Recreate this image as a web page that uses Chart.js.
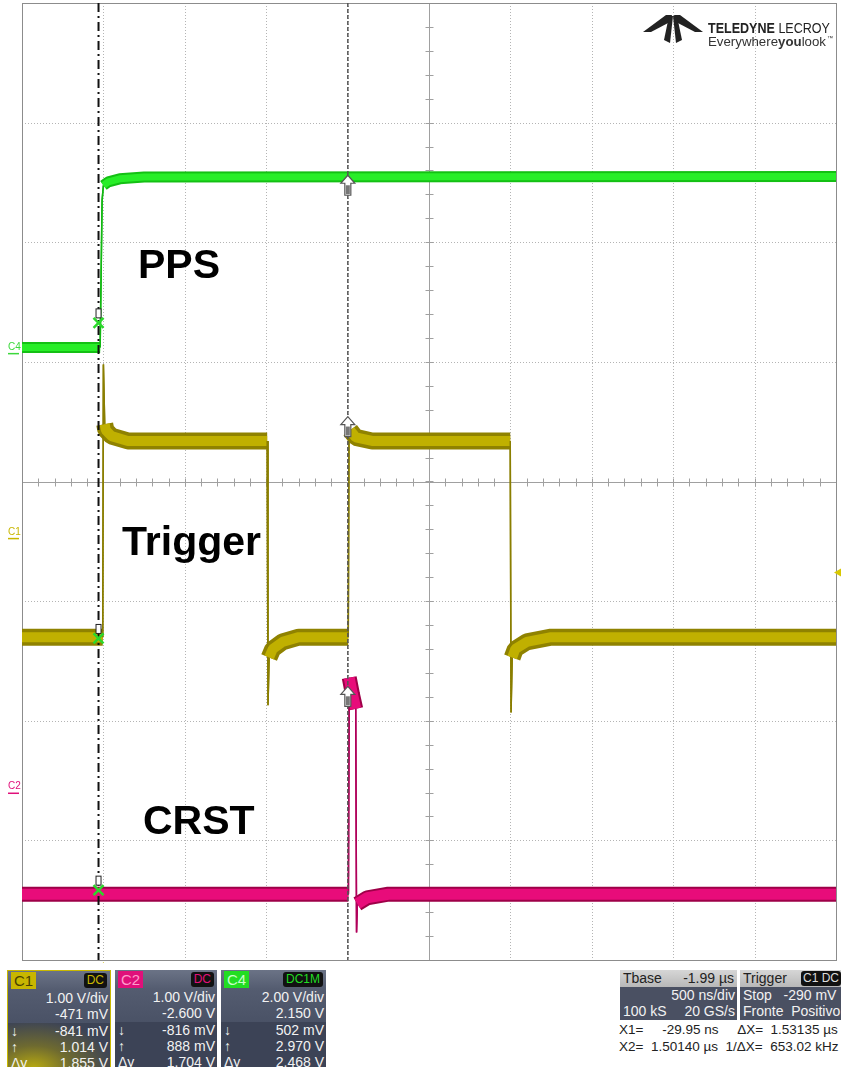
<!DOCTYPE html>
<html>
<head>
<meta charset="utf-8">
<script src="https://cdn.jsdelivr.net/npm/chart.js@4.4.1/dist/chart.umd.min.js"></script>
<style>
body { margin: 0; background: #fff; width: 841px; height: 1067px; overflow: hidden; position: relative; font-family: "Liberation Sans", Arial, sans-serif; }
#wrap { position: absolute; left: 0; top: 0; width: 841px; height: 963px; }
.sig { position: absolute; font-weight: bold; font-size: 41px; color: #000; line-height: 1; }
.box { position: absolute; top: 970px; height: 97px; color: #f2f2f2; font-size: 14px; overflow: hidden; }
.box .hd { height: 19px; background: linear-gradient(#6b7386, #545c70); position: relative; }
.box .tag { position: absolute; left: 3px; top: 1px; padding: 0 3px; height: 17px; line-height: 17px; font-size: 15px; }
.box .cpl { position: absolute; right: 3px; top: 2px; background: #111; border-radius: 3px; padding: 0 3px; height: 15px; line-height: 15px; font-size: 12px; }
.box .up { background: linear-gradient(#545c70, #4a5266); height: 33px; }
.box .lo { background: #3c4356; height: 45px; }
.row { height: 16px; line-height: 16px; text-align: right; padding-right: 2px; position: relative; }
.row b { position: absolute; left: 3px; font-weight: normal; }
.tb { position: absolute; top: 970px; height: 50px; font-size: 14px; color: #f2f2f2; background: #4a5062; }
.tb .hd { height: 17px; line-height: 17px; background: linear-gradient(#d6d6d6, #b8b8b8); color: #222; padding: 0 3px; position: relative; }
.tb .row { height: 16px; line-height: 16px; }
.cur { position: absolute; font-size: 13.5px; color: #222; white-space: pre; }
</style>
</head>
<body>
<div id="wrap"><canvas id="scope" width="841" height="963"></canvas></div>

<div class="sig" style="left:138px;top:244px">PPS</div>
<div class="sig" style="left:122px;top:521px">Trigger</div>
<div class="sig" style="left:143px;top:800px">CRST</div>

<!-- logo -->
<svg style="position:absolute;left:640px;top:12px" width="200" height="40">
  <polygon points="3,20 26,3 32,3 30,10 11,20" fill="#222"/>
  <polygon points="63,20 40,3 34,3 36,10 55,20" fill="#222"/>
  <polygon points="29,4 33,4 30,31 24,28" fill="#222"/>
  <polygon points="33,4 37,4 42,28 36,31" fill="#222"/>
  <text x="68" y="21" font-family="Liberation Sans, Arial" font-size="15" fill="#222" textLength="122" lengthAdjust="spacingAndGlyphs"><tspan font-weight="bold">TELEDYNE</tspan> LECROY</text>
  <text x="68" y="34" font-family="Liberation Sans, Arial" font-size="12.5" fill="#333" textLength="118" lengthAdjust="spacingAndGlyphs">Everywhere<tspan font-weight="bold">you</tspan>look</text>
  <text x="187" y="28" font-family="Liberation Sans, Arial" font-size="6" fill="#333">™</text>
</svg>

<!-- channel boxes -->
<div class="box" style="left:7px;width:104px;border:1px solid #c9b800;border-bottom:none;box-sizing:border-box;background:#3c4356">
  <div class="hd"><span class="tag" style="background:#c8b600;color:#4a4200">C1</span><span class="cpl" style="color:#c8b600">DC</span></div>
  <div class="up"><div class="row">1.00 V/div</div><div class="row">-471 mV</div></div>
  <div class="lo" style="background:radial-gradient(ellipse at 25% 100%, #b8aa10 0%, #6e6a30 35%, #3c4356 75%)">
    <div class="row"><b>↓</b>-841 mV</div><div class="row"><b>↑</b>1.014 V</div><div class="row"><b>Δy</b>1.855 V</div>
  </div>
</div>
<div class="box" style="left:115px;width:102px">
  <div class="hd"><span class="tag" style="background:#e0107a;color:#ff9ccc">C2</span><span class="cpl" style="color:#e0107a">DC</span></div>
  <div class="up"><div class="row">1.00 V/div</div><div class="row">-2.600 V</div></div>
  <div class="lo"><div class="row"><b>↓</b>-816 mV</div><div class="row"><b>↑</b>888 mV</div><div class="row"><b>Δy</b>1.704 V</div></div>
</div>
<div class="box" style="left:221px;width:105px">
  <div class="hd"><span class="tag" style="background:#22dd22;color:#c8ffc8">C4</span><span class="cpl" style="color:#22dd22">DC1M</span></div>
  <div class="up"><div class="row">2.00 V/div</div><div class="row">2.150 V</div></div>
  <div class="lo"><div class="row"><b>↓</b>502 mV</div><div class="row"><b>↑</b>2.970 V</div><div class="row"><b>Δy</b>2.468 V</div></div>
</div>

<!-- timebase / trigger -->
<div class="tb" style="left:620px;width:117px">
  <div class="hd">Tbase<span style="position:absolute;right:3px">-1.99 µs</span></div>
  <div class="row">500 ns/div</div>
  <div class="row"><b>100 kS</b>20 GS/s</div>
</div>
<div class="tb" style="left:740px;width:101px">
  <div class="hd">Trigger<span style="position:absolute;right:0;top:1px;background:#111;color:#ddd;font-size:12px;line-height:15px;padding:0 2px;border-radius:3px">C1 DC</span></div>
  <div class="row" style="text-align:left;padding-left:3px">Stop&nbsp;&nbsp;&nbsp;-290 mV</div>
  <div class="row" style="text-align:left;padding-left:3px">Fronte&nbsp;&nbsp;Positivo</div>
</div>
<div class="cur" style="left:619px;top:1022px">X1=     -29.95 ns     ΔX=  1.53135 µs</div>
<div class="cur" style="left:619px;top:1039px">X2=  1.50140 µs  1/ΔX=  653.02 kHz</div>

<script>
// ======================================
// Scope screen: PPS / Trigger / CRST
// ======================================

// time axis in µs (500 ns/div, 10 div)
const timeMin = -0.5;
const timeMax = 4.5;
const timeStep = 0.5;

// vertical divisions
const divMin = -4;
const divMax = 4;

// channel settings: V/div and offset
const c1VoltsPerDiv = 1.0, c1Offset = -0.471;
const c2VoltsPerDiv = 1.0, c2Offset = -2.6;
const c4VoltsPerDiv = 2.0, c4Offset = 2.15;

// PPS on C4 (volts)
const ppsTime = [-0.5, -0.02, -0.008, 0.0, 0.03, 0.1, 0.25, 4.5];
const ppsVolt = [0.09, 0.09, 2.55, 2.80, 2.86, 2.91, 2.94, 2.95];

// Trigger on C1 (volts)
const trigTime = [-0.5, -0.004, 0.0, 0.008, 0.015, 0.05, 0.15, 1.006, 1.011, 1.018, 1.04, 1.10, 1.20, 1.504, 1.509, 1.516, 1.55, 1.65, 2.499, 2.504, 2.511, 2.53, 2.60, 2.75, 4.5];
const trigVolt = [-0.83, -0.83, 1.45, 0.95, 0.90, 0.85, 0.81, 0.81, -1.40, -1.0, -0.93, -0.87, -0.83, -0.83, 1.00, 0.90, 0.84, 0.81, 0.81, -1.46, -1.0, -0.93, -0.87, -0.83, -0.83];

// CRST on C2 (volts)
const crstTime = [-0.5, 1.505, 1.510, 1.530, 1.550, 1.555, 1.560, 1.62, 1.75, 4.5];
const crstVolt = [-0.85, -0.85, 0.96, 0.82, 0.70, -1.17, -0.93, -0.88, -0.85, -0.85];

// cursors
const cursorTime = [-0.02995, 1.50140];
const c1Cursor = [-0.841, 1.014];
const c2Cursor = [-0.816, 0.888];
const c4Cursor = [0.502, 2.970];
const trigLevel = -0.290;

const pts = (xs, ys) => xs.map((t, i) => ({ x: t, y: ys[i] }));

// channel axis limits from V/div + offset
const chanRange = (vdiv, off) => ({ min: divMin * vdiv - off, max: divMax * vdiv - off });

// steep segments (edges) are drawn thin, flat ones as a noisy band
const steep = ctx => Math.abs(ctx.p1.x - ctx.p0.x) < 3 && Math.abs(ctx.p1.y - ctx.p0.y) > 8;

function trace(data, axis, color, width, edgeColor) {
    return {
        data: data,
        yAxisID: axis,
        borderColor: color,
        borderWidth: width,
        pointRadius: 0,
        tension: 0,
        fill: false,
        borderJoinStyle: "bevel",
        borderCapStyle: "butt",
        segment: {
            borderWidth: ctx => steep(ctx) ? 1.5 : width,
            borderColor: ctx => steep(ctx) ? edgeColor : color
        }
    };
}

// ===========================
// Grid
// ===========================
const scopeGrid = {
    id: "scopeGrid",
    beforeDatasetsDraw(chart) {
        const { ctx, chartArea: a, scales } = chart;
        const x = scales.x, y = scales.yDiv;
        ctx.save();
        ctx.lineWidth = 1;
        const nx = Math.round((timeMax - timeMin) / timeStep);
        for (let i = 1; i < nx; i++) {
            const px = Math.round(x.getPixelForValue(timeMin + i * timeStep)) + 0.5;
            ctx.beginPath();
            if (i === nx / 2) { ctx.setLineDash([]); ctx.strokeStyle = "#a0a0a0"; }
            else { ctx.setLineDash([1, 2]); ctx.strokeStyle = "#b4b4b4"; }
            ctx.moveTo(px, a.top); ctx.lineTo(px, a.bottom); ctx.stroke();
        }
        for (let d = divMin + 1; d < divMax; d++) {
            const py = Math.round(y.getPixelForValue(d)) + 0.5;
            ctx.beginPath();
            if (d === 0) { ctx.setLineDash([]); ctx.strokeStyle = "#a0a0a0"; }
            else { ctx.setLineDash([1, 2]); ctx.strokeStyle = "#b4b4b4"; }
            ctx.moveTo(a.left, py); ctx.lineTo(a.right, py); ctx.stroke();
        }
        // minor ticks on the centre axes
        ctx.setLineDash([]);
        ctx.strokeStyle = "#a0a0a0";
        const cx = Math.round(x.getPixelForValue((timeMin + timeMax) / 2)) + 0.5;
        const cy = Math.round(y.getPixelForValue(0)) + 0.5;
        for (let d = divMin; d < divMax; d += 0.2) {
            const py = Math.round(y.getPixelForValue(d)) + 0.5;
            ctx.beginPath(); ctx.moveTo(cx - 4, py); ctx.lineTo(cx + 4, py); ctx.stroke();
        }
        for (let t = timeMin; t < timeMax; t += timeStep / 5) {
            const px = Math.round(x.getPixelForValue(t)) + 0.5;
            ctx.beginPath(); ctx.moveTo(px, cy - 4); ctx.lineTo(px, cy + 4); ctx.stroke();
        }
        // frame
        ctx.strokeStyle = "#8c8c8c";
        ctx.strokeRect(Math.round(a.left) + 0.5, Math.round(a.top) + 0.5, Math.round(a.right - a.left), Math.round(a.bottom - a.top));
        ctx.restore();
    }
};

// ===========================
// Cursors and markers
// ===========================
const scopeCursors = {
    id: "scopeCursors",
    afterDatasetsDraw(chart) {
        const { ctx, chartArea: a, scales } = chart;
        const x = scales.x;
        const x1 = x.getPixelForValue(cursorTime[0]);
        const x2 = x.getPixelForValue(cursorTime[1]);
        ctx.save();

        // X2 dashed grey
        ctx.strokeStyle = "#555";
        ctx.lineWidth = 1.5;
        ctx.setLineDash([4, 2]);
        ctx.beginPath(); ctx.moveTo(x2, a.top); ctx.lineTo(x2, a.bottom); ctx.stroke();

        // X1 dash-dot black
        ctx.strokeStyle = "#111";
        ctx.lineWidth = 2;
        ctx.setLineDash([9, 4, 2, 4]);
        ctx.beginPath(); ctx.moveTo(x1, a.top); ctx.lineTo(x1, a.bottom); ctx.stroke();
        ctx.setLineDash([]);

        // X1 markers: small box + green star
        const stars = [
            scales.yC4.getPixelForValue(c4Cursor[0]),
            scales.yC1.getPixelForValue(c1Cursor[0]),
            scales.yC2.getPixelForValue(c2Cursor[0])
        ];
        stars.forEach(py => {
            ctx.fillStyle = "#fff";
            ctx.strokeStyle = "#222";
            ctx.lineWidth = 1;
            ctx.fillRect(x1 - 2.5, py - 14, 5, 9);
            ctx.strokeRect(x1 - 2.5, py - 14, 5, 9);
            ctx.strokeStyle = "#2bd82b";
            ctx.lineWidth = 2.5;
            ctx.beginPath();
            ctx.moveTo(x1 - 5, py - 5); ctx.lineTo(x1 + 5, py + 5);
            ctx.moveTo(x1 + 5, py - 5); ctx.lineTo(x1 - 5, py + 5);
            ctx.stroke();
        });

        // X2 markers: white up arrows
        const arrows = [
            scales.yC4.getPixelForValue(c4Cursor[1]),
            scales.yC1.getPixelForValue(c1Cursor[1]),
            scales.yC2.getPixelForValue(c2Cursor[1])
        ];
        arrows.forEach(py => {
            ctx.beginPath();
            ctx.moveTo(x2, py);
            ctx.lineTo(x2 + 7, py + 8);
            ctx.lineTo(x2 + 3, py + 8);
            ctx.lineTo(x2 + 3, py + 20);
            ctx.lineTo(x2 - 3, py + 20);
            ctx.lineTo(x2 - 3, py + 8);
            ctx.lineTo(x2 - 7, py + 8);
            ctx.closePath();
            ctx.fillStyle = "#fff";
            ctx.fill();
            ctx.strokeStyle = "#555";
            ctx.lineWidth = 1.2;
            ctx.stroke();
            ctx.fillStyle = "#777";
            ctx.fillRect(x2 - 2, py + 10, 4, 9);
        });

        // channel labels on the left
        ctx.font = "10px 'Liberation Sans', Arial";
        ctx.textBaseline = "middle";
        [["C4", "yC4", "#3cd83c"], ["C1", "yC1", "#c8b600"], ["C2", "yC2", "#e0107a"]].forEach(([n, id, c]) => {
            const py = scales[id].getPixelForValue(0) - 6;
            ctx.fillStyle = c;
            ctx.fillText(n, 8, py);
            ctx.fillRect(8, py + 6, 11, 1.5);
        });

        // trigger level marker (right edge)
        const ty = scales.yC1.getPixelForValue(trigLevel);
        ctx.fillStyle = "#d8c800";
        ctx.beginPath();
        ctx.moveTo(a.right - 2, ty); ctx.lineTo(a.right + 5, ty - 4); ctx.lineTo(a.right + 5, ty + 4); ctx.closePath();
        ctx.fill();

        // trigger position marker (below)
        const tx = x.getPixelForValue(0);
        ctx.fillStyle = "#c8b600";
        ctx.beginPath();
        ctx.moveTo(tx, a.bottom + 2); ctx.lineTo(tx + 5, a.bottom + 10); ctx.lineTo(tx - 5, a.bottom + 10); ctx.closePath();
        ctx.fill();

        ctx.restore();
    }
};

const c1R = chanRange(c1VoltsPerDiv, c1Offset);
const c2R = chanRange(c2VoltsPerDiv, c2Offset);
const c4R = chanRange(c4VoltsPerDiv, c4Offset);

// first dataset is painted last (on top), so bright cores come first
new Chart(document.getElementById("scope"), {

    type: "line",

    data: {
        datasets: [
            trace(pts(ppsTime, ppsVolt), "yC4", "#28ee28", 7, "#12b812"),
            trace(pts(ppsTime, ppsVolt), "yC4", "#14c014", 11, "#12b812"),
            trace(pts(trigTime, trigVolt), "yC1", "#c0b000", 10, "#8a7e00"),
            trace(pts(trigTime, trigVolt), "yC1", "#8f8200", 17, "#8a7e00"),
            trace(pts(crstTime, crstVolt), "yC2", "#e80c7a", 11, "#b0005a"),
            trace(pts(crstTime, crstVolt), "yC2", "#9e0048", 15, "#b0005a")
        ]
    },

    plugins: [scopeGrid, scopeCursors],

    options: {
        responsive: false,
        animation: false,
        events: [],
        layout: { padding: { left: 22, right: 5, top: 3, bottom: 3 } },
        plugins: { legend: { display: false }, tooltip: { enabled: false } },
        scales: {
            x: { type: "linear", min: timeMin, max: timeMax, display: false },
            yDiv: { type: "linear", min: divMin, max: divMax, display: false },
            yC1: { type: "linear", min: c1R.min, max: c1R.max, display: false },
            yC2: { type: "linear", min: c2R.min, max: c2R.max, display: false },
            yC4: { type: "linear", min: c4R.min, max: c4R.max, display: false }
        }
    }

});
</script>
</body>
</html>
